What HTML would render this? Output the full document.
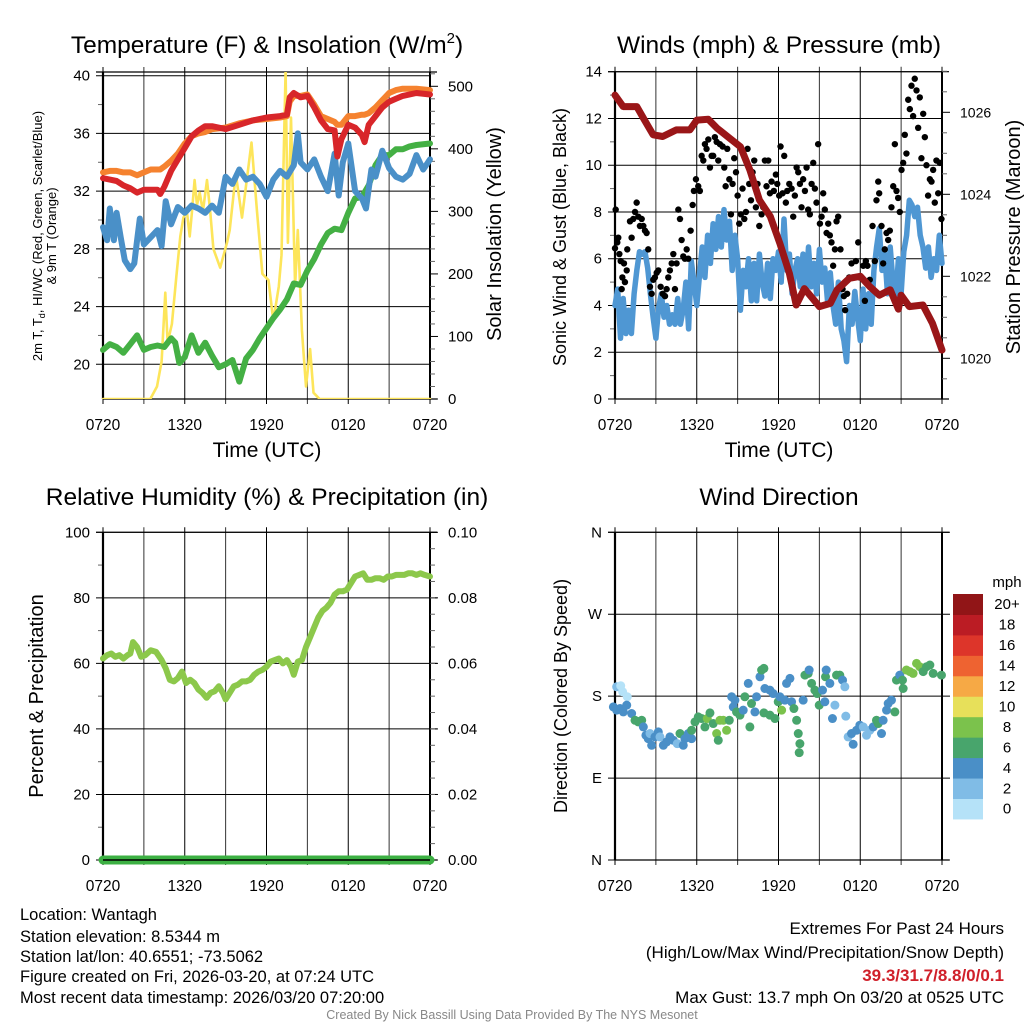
<!DOCTYPE html>
<html><head><meta charset="utf-8"><style>
html,body{margin:0;padding:0;background:#fff;}
svg{display:block;font-family:"Liberation Sans",Arial,sans-serif;}
</style></head><body>
<svg id="c" width="1024" height="1024" viewBox="0 0 1024 1024" xmlns="http://www.w3.org/2000/svg">
<rect width="1024" height="1024" fill="#fff"/>
<g id="g1"></g>
<g id="g2"></g>
<g id="g3"></g>
<g id="g4"></g>

<text x="267" y="53" font-size="24.5" text-anchor="middle">Temperature (F) &amp; Insolation (W/m<tspan font-size="15" dy="-10">2</tspan><tspan dy="10">)</tspan></text>
<text x="779" y="53" font-size="24.5" text-anchor="middle">Winds (mph) &amp; Pressure (mb)</text>
<text x="267" y="505" font-size="24.5" text-anchor="middle">Relative Humidity (%) &amp; Precipitation (in)</text>
<text x="779" y="505" font-size="24.5" text-anchor="middle">Wind Direction</text>

<text transform="translate(42,236) rotate(-90)" font-size="13" text-anchor="middle">2m T, T<tspan font-size="9" dy="3">d</tspan><tspan dy="-3">, HI/WC (Red, Green, Scarlet/Blue)</tspan></text>
<text transform="translate(56,236) rotate(-90)" font-size="13" text-anchor="middle">&amp; 9m T (Orange)</text>
<text transform="translate(501,234) rotate(-90)" font-size="20" text-anchor="middle">Solar Insolation (Yellow)</text>
<text transform="translate(566,237) rotate(-90)" font-size="18" text-anchor="middle">Sonic Wind &amp; Gust (Blue, Black)</text>
<text transform="translate(1020,237) rotate(-90)" font-size="20" text-anchor="middle">Station Pressure (Maroon)</text>
<text transform="translate(43,696) rotate(-90)" font-size="20" text-anchor="middle">Percent &amp; Precipitation</text>
<text transform="translate(567,696) rotate(-90)" font-size="18" text-anchor="middle">Direction (Colored By Speed)</text>
<text x="267" y="457" font-size="21" text-anchor="middle">Time (UTC)</text>
<text x="779" y="457" font-size="21" text-anchor="middle">Time (UTC)</text>

<g font-size="16.5">
<text x="20" y="920">Location: Wantagh</text>
<text x="20" y="942">Station elevation: 8.5344 m</text>
<text x="20" y="962">Station lat/lon: 40.6551; -73.5062</text>
<text x="20" y="982">Figure created on Fri, 2026-03-20, at 07:24 UTC</text>
<text x="20" y="1003">Most recent data timestamp: 2026/03/20 07:20:00</text>
</g>
<g font-size="17" text-anchor="end">
<text x="1004" y="934">Extremes For Past 24 Hours</text>
<text x="1004" y="958">(High/Low/Max Wind/Precipitation/Snow Depth)</text>
<text x="1004" y="981" fill="#d0202a" font-weight="bold">39.3/31.7/8.8/0/0.1</text>
<text x="1004" y="1003">Max Gust: 13.7 mph On 03/20 at 0525 UTC</text>
</g>
<text x="512" y="1019" font-size="12.5" fill="#888" text-anchor="middle">Created By Nick Bassill Using Data Provided By The NYS Mesonet</text>
</svg>
<script>
// ---------- DATA ----------
const tickLabelsX = ["0720","1320","1920","0120","0720"];
// Panel 1 temperature (hours since 0720 UTC)
const tempHours = [0,0.5,1,1.5,2,2.5,3,3.5,4,4.2,4.5,5,5.5,6,6.5,7,7.5,8,9,10,11,12,13,13.5,13.7,14,14.5,15,15.5,16,16.5,17,17.2,17.5,18,18.5,19,19.2,19.5,20,20.5,21,21.5,22,23,24];
const temp2m = [32.9,32.8,32.7,32.4,32.2,31.9,32.1,32.1,32.1,31.8,32.3,33.4,34.2,35.0,35.8,36.2,36.5,36.5,36.3,36.6,36.9,37.1,37.2,37.3,38.5,38.8,38.5,38.6,37.8,36.9,36.3,36.2,34.4,35.6,36.6,36.4,35.9,35.4,36.6,37.2,37.8,38.2,38.4,38.6,38.8,38.7];
const temp9m = [33.3,33.4,33.4,33.3,33.3,33.1,33.3,33.5,33.5,33.5,33.7,34.1,34.6,35.3,35.8,36.0,36.1,36.3,36.4,36.7,36.9,37.0,37.1,37.2,38.2,38.6,38.6,38.7,38.0,37.2,37.0,36.8,36.6,36.6,37.2,37.2,37.3,37.3,37.4,37.8,38.3,38.8,39.0,39.1,39.1,39.0];
const wcHours = [0,0.3,0.5,0.8,1,1.3,1.6,2,2.3,2.5,2.7,3,3.5,4,4.3,4.6,5,5.5,6,6.5,7,7.5,8,8.5,9,9.5,10,10.5,11,11.5,12,12.5,13,13.5,14,14.3,14.5,15,15.5,16,16.5,17,17.3,17.6,18,18.5,19,19.3,19.7,20,20.5,21,21.5,22,22.5,23,23.5,24];
const windChill = [29.5,28.6,30.8,28.6,30.5,28.8,27.2,26.6,27.0,28.6,30.1,28.3,28.8,29.3,28.2,31.3,29.7,30.9,30.5,31.0,30.8,30.5,31.0,30.5,33.0,32.5,33.5,32.8,33.0,32.5,31.6,32.8,33.4,33.0,33.8,36.0,34.0,33.5,34.2,33.0,32.0,34.6,31.7,34.0,35.3,32.0,31.5,30.8,33.5,33.0,34.8,33.6,33.0,32.8,33.2,34.5,33.5,34.2];
const dewHours = [0,0.5,1,1.5,2,2.5,3,3.5,4,4.5,5,5.3,5.6,6,6.5,7,7.5,8,8.5,9,9.5,10,10.5,11,11.5,12,12.5,13,13.5,14,14.5,15,15.5,16,16.5,17,17.5,18,18.5,19,19.5,20,20.5,21,21.5,22,22.5,23,24];
const dewPoint = [21.0,21.4,21.2,20.8,21.4,22.0,21.0,21.2,21.3,21.2,21.8,21.5,20.1,20.5,22.0,20.8,21.5,20.6,19.8,20.0,20.3,18.8,20.4,21.0,21.8,22.5,23.2,23.8,24.5,25.6,25.5,26.5,27.3,28.3,29.1,29.4,29.3,30.5,31.5,31.6,32.4,33.8,34.5,34.5,34.9,34.9,35.1,35.2,35.3];
const solarHours = [0,3.47,3.96,4.3,4.57,4.74,5.06,5.38,5.67,5.9,6.16,6.36,6.53,6.72,6.9,7.1,7.33,7.63,7.87,8.1,8.6,9.1,9.3,9.75,10.2,10.9,11.3,11.7,12.15,12.5,12.9,13.1,13.4,13.57,13.8,14.1,14.3,14.6,14.9,15.2,15.45,15.9,24];
const solarValues = [0,0,20,60,170,90,120,195,260,290,300,260,300,350,310,330,300,350,300,240,210,250,270,360,290,410,300,200,190,125,180,230,525,250,450,180,270,110,20,80,10,0,0];
// Panel 2
const windHours = [0,0.2,0.4,0.6,0.8,1,1.2,1.4,1.6,1.8,2,2.2,2.4,2.6,2.8,3,3.2,3.4,3.6,3.8,4,4.2,4.4,4.6,4.8,5,5.2,5.4,5.6,5.8,6,6.2,6.4,6.6,6.8,7,7.2,7.4,7.6,7.8,8,8.2,8.4,8.6,8.8,9,9.2,9.4,9.6,9.8,10,10.2,10.4,10.6,10.8,11,11.2,11.4,11.6,11.8,12,12.2,12.4,12.6,12.8,13,13.2,13.4,13.6,13.8,14,14.2,14.4,14.6,14.8,15,15.2,15.4,15.6,15.8,16,16.2,16.4,16.6,16.8,17,17.2,17.4,17.6,17.8,18,18.2,18.4,18.6,18.8,19,19.2,19.4,19.6,19.8,20,20.2,20.4,20.6,20.8,21,21.2,21.4,21.6,21.8,22,22.2,22.4,22.6,22.8,23,23.2,23.4,23.6,23.8,24];
const windSpeed = [4.0,4.7,2.6,4.3,2.8,3.8,2.8,4.5,5.5,6.3,6.2,6.3,5.6,4.5,3.5,2.6,3.9,4.5,3.5,4.0,3.2,3.6,3.2,4.3,3.2,3.8,5.0,3.0,5.9,5.0,4.0,5.3,6.5,5.2,7.0,5.8,7.5,6.4,7.8,6.5,8.1,6.8,7.6,5.5,7.0,6.0,3.8,5.5,4.8,6.0,4.2,5.8,4.2,6.2,5.0,4.4,5.8,4.3,6.0,5.5,6.3,5.0,7.7,5.5,6.2,4.5,5.5,6.0,4.8,6.2,4.6,6.5,4.8,5.8,4.5,6.4,5.0,5.6,4.2,5.4,4.0,3.2,5.0,3.0,2.5,1.6,4.0,3.2,4.6,3.5,2.5,4.7,3.0,4.5,3.2,5.5,6.5,7.3,5.5,6.2,4.5,6.5,5.0,4.2,6.0,4.5,6.3,7.0,8.5,8.3,7.8,8.2,7.0,6.5,5.6,6.5,5.2,6.0,5.5,7.0,5.8];
const gustHours = [0,0.05,0.17,0.24,0.32,0.42,0.49,0.54,0.66,0.73,0.86,0.9,1.1,1.22,1.34,1.47,1.59,1.71,1.83,1.96,2.08,2.2,2.32,2.44,2.57,2.69,2.81,2.93,3.06,3.18,3.35,3.5,3.67,3.79,3.91,4.03,4.16,4.28,4.4,4.52,4.65,4.77,4.89,5.01,5.13,5.26,5.38,5.55,5.7,5.79,5.94,6.11,6.23,6.36,6.48,6.6,6.72,6.85,6.97,7.09,7.21,7.33,7.46,7.58,7.7,7.9,8.02,8.12,8.24,8.39,8.51,8.63,8.75,8.88,9,9.12,9.24,9.36,9.49,9.61,9.73,9.85,9.98,10.1,10.22,10.34,10.46,10.59,10.76,10.88,11,11.12,11.25,11.37,11.49,11.66,11.81,11.91,12.05,12.15,12.3,12.42,12.54,12.64,12.79,12.96,13.08,13.2,13.33,13.45,13.57,13.69,13.81,13.94,14.06,14.18,14.3,14.43,14.55,14.67,14.79,14.91,15.04,15.16,15.28,15.4,15.53,15.65,15.77,15.89,16.01,16.14,16.26,16.38,16.55,16.7,16.8,16.89,17.04,17.19,17.36,17.48,17.68,17.85,17.97,18.22,18.34,18.41,18.53,18.7,18.9,19.07,19.19,19.32,19.39,19.56,19.68,19.8,19.93,20.05,20.17,20.29,20.42,20.54,20.66,20.78,20.9,21.03,21.15,21.27,21.39,21.52,21.64,21.76,21.88,22,22.13,22.25,22.37,22.49,22.62,22.74,22.86,22.98,23.11,23.23,23.35,23.47,23.59,23.72,23.84,23.96];
const gustSpeed = [6.45,8.1,6.7,6.9,6.2,5.9,4.7,5.2,5.8,5.0,5.5,6.4,7.6,6.9,7.7,8.0,8.4,7.8,7.4,7.7,7.4,7.2,7.1,6.4,4.8,4.5,5.1,5.2,5.4,5.5,4.8,4.5,4.4,4.7,5.2,5.5,5.8,6.2,4.7,5.8,8.1,7.7,6.8,6.1,6.0,6.4,6.0,7.2,8.3,8.9,9.4,9.1,8.9,10.4,10.2,10.9,10.7,11.1,9.9,10.4,10.4,11.2,11.0,10.2,10.9,10.8,9.9,9.1,10.7,9.4,7.9,9.2,10.3,9.7,8.7,7.5,7.9,9.0,7.7,8.0,10.7,9.2,8.5,9.7,10.2,8.2,9.2,7.4,7.9,8.2,10.2,9.1,10.2,8.8,9.3,8.9,9.6,9.2,8.7,10.8,8.8,10.4,8.4,8.9,9.2,9.0,7.8,8.7,9.9,9.7,9.2,8.2,9.4,8.9,9.9,8.1,7.9,9.2,10.1,9.0,8.4,10.9,7.5,7.8,8.8,8.1,7.1,7.5,7.0,6.7,5.7,6.4,7.6,7.8,6.4,4.7,4.4,3.8,4.5,5.2,5.8,5.2,5.9,6.7,5.2,5.7,4.2,5.9,5.7,5.1,7.4,5.9,8.5,9.3,8.8,7.4,5.8,6.4,7.1,6.8,7.2,8.2,9.1,10.9,8.9,8.6,8.0,9.8,10.1,11.3,10.5,12.8,12.4,13.4,12.1,13.7,13.2,11.6,12.9,10.3,12.2,11.2,10.0,8.7,9.4,9.3,9.8,8.4,10.2,8.8,10.1,7.7];
const presHours = [0,0.6,1.6,2.1,2.8,3.5,4.5,5.5,6,6.85,7.5,8.4,9.2,9.9,10.6,11.4,12.1,12.8,13.3,13.9,14.5,15,15.8,16.3,17.2,18,18.7,19.4,20.2,20.8,21,21.6,22.6,23.3,24];
const pressure = [1026.42,1026.14,1026.14,1025.85,1025.45,1025.41,1025.57,1025.57,1025.81,1025.83,1025.61,1025.37,1025.16,1024.59,1023.86,1023.46,1022.8,1022.07,1021.3,1021.7,1021.46,1021.26,1021.34,1021.67,1021.95,1022.0,1021.75,1021.54,1021.67,1021.2,1021.54,1021.26,1021.3,1020.85,1020.2];
// Panel 3
const rhHours = [0,0.3,0.6,0.9,1.2,1.5,1.8,2,2.2,2.5,2.8,3.1,3.5,3.9,4.3,4.6,4.9,5.2,5.5,5.8,6.1,6.4,6.7,7,7.3,7.6,7.9,8.2,8.5,8.8,9,9.3,9.6,9.9,10.2,10.5,10.8,11.1,11.4,11.7,12,12.3,12.6,12.9,13.2,13.5,13.8,14,14.3,14.6,14.9,15.2,15.5,15.8,16.1,16.4,16.7,17,17.3,17.6,17.9,18.2,18.5,18.8,19.1,19.4,19.7,20,20.3,20.6,20.9,21.2,21.5,21.8,22.1,22.4,22.7,23,23.3,23.6,24];
const rhValues = [61.5,62.5,63,62,62.5,61.5,62.5,63,66.5,65,62,62.5,64,63.5,61,58.5,55,54.5,55.5,57.5,54,55,54,52,51,49.5,51,51.5,53,51,49,51,53,53.5,54.5,54.5,55,56.5,57.5,58,59,60.5,61,61.5,60,61,59,56.5,60.5,61,65,68,71,74,76,77,78.5,81,82,82,82.5,84.5,86.5,87,87.5,85.5,85.5,86,86,85.5,86.5,86.5,87,87,87,87.5,87.5,87,87.5,87,86.5];
const precipHours = [0,24];
const precipValues = [0,0];
// Panel 4
const dirHours = [0.12,0.42,0.56,0.9,-0.12,0.12,0.37,0.61,0.86,1.22,1.47,1.71,1.96,2.08,2.27,2.44,2.57,2.69,2.93,3.18,3.3,3.55,3.79,4.03,4.28,4.57,4.77,5.01,5.13,5.38,5.62,5.62,5.87,6.11,6.36,6.6,6.77,6.97,7.21,7.46,7.58,7.7,7.95,8.19,8.39,8.56,8.68,8.8,8.92,9.17,9.41,9.53,9.78,9.9,10.02,10.27,10.39,10.64,10.76,10.93,11.0,11.37,11.61,10.93,11.37,11.74,11.98,12.1,12.23,12.47,12.59,12.84,12.96,13.13,13.33,13.45,13.57,13.52,13.81,13.94,14.18,14.25,14.43,14.67,14.84,14.99,15.23,15.4,15.45,15.5,15.77,15.96,16.14,16.26,16.5,16.7,16.87,16.94,17.11,17.36,17.48,17.73,17.97,18.22,18.46,18.7,18.95,19.19,19.32,19.56,19.68,19.93,20.05,20.29,20.54,20.66,20.9,21.1,21.15,21.39,21.64,21.88,22.13,22.37,22.62,22.86,23.11,23.35,23.96];
const dirDegrees = [190.3,191.4,184.8,179.3,168.2,164.6,166.4,162.7,170.1,160.9,153.5,151.7,153.5,146.2,137,133.3,138.9,126,135.2,140.7,135.2,126,129.7,135.2,131.5,127.8,138.9,126,133.3,138.9,133.3,142.5,151.7,157.2,155.4,146.2,155.4,161.6,149.9,138.9,131.5,153.5,153.5,142.5,153.5,179.3,168.2,175.6,162.7,159.1,164.6,179.3,194,146.2,171.9,162.7,179.3,201.3,208.7,210.5,188.4,186.6,182.9,161.6,159.1,155.4,173.8,179.3,164.6,175.6,194,199.5,173.8,166.4,153.5,138.9,127.8,117.9,175.6,203.1,205,208.7,194,186.6,182.9,170.1,186.6,173.8,201.3,208.7,194,155.4,170.1,203.1,203.1,197.6,190.3,158,135.2,138.9,127.1,142.5,148.1,146.2,137,142.5,146.2,153.5,149.9,138.9,153.5,164.6,171.9,175.6,162.7,197.6,203.1,197.6,188.4,208.7,207,205,216,212.3,207,212.3,214.2,205,203.1,205];
const dirSpeed = [2,1,1,1,4,4,4,4,4,4,6,6,6,4,4,4,2,4,4,4,2,4,4,4,4,2,6,4,4,4,4,6,6,6,6,6,8,6,6,8,6,8,8,8,6,4,4,4,6,6,4,6,4,6,6,4,4,4,6,6,4,4,4,6,6,6,6,4,8,4,4,4,4,6,6,6,6,6,4,6,6,4,6,6,6,6,4,4,6,4,4,4,2,6,6,4,2,2,2,4,4,4,4,2,2,2,4,6,6,4,4,4,4,4,6,6,4,6,6,8,8,8,8,8,6,6,6,6,6,6];
const cbLabels = ["0","2","4","6","8","10","12","14","16","18","20+"];
const cbColors = ["#b5e2f8","#80bce6","#4a8fc7","#48a56c","#7bc24c","#e7e05a","#f6a945","#ee6331","#dd352a","#bb1c24","#911517"];

// ---------- HELPERS ----------
const NS = "http://www.w3.org/2000/svg";
function mk(parent, tag, attrs, text){
  const e = document.createElementNS(NS, tag);
  for (const k in attrs) e.setAttribute(k, attrs[k]);
  if (text !== undefined) e.textContent = text;
  parent.appendChild(e);
  return e;
}
function lin(d0,d1,r0,r1){ return v => r0 + (v-d0)*(r1-r0)/(d1-d0); }
function pathD(xs, ys, fx, fy){
  let d = "";
  for (let i=0;i<xs.length;i++) d += (i?"L":"M") + fx(xs[i]).toFixed(1) + "," + fy(ys[i]).toFixed(1);
  return d;
}

function frame(g, L, R, T, B, yTicks, yFn, yLabels, opt){
  const gx = mk(g,"g",{});
  
  
  for (let h=0; h<=24; h+=3){
    const x = L + h*(R-L)/24;
    const l = mk(gx,"line",{x1:x,x2:x,y1:T-5,y2:B+5,stroke:(h%6===0)?"#000":"#333","stroke-width":1});
    
    
  }
  yTicks.forEach((v,i)=>{
    const y = yFn(v);
    const l = mk(gx,"line",{x1:L-7,x2:R+ (opt.rightGrid||0),y1:y,y2:y,stroke:"#000","stroke-width":1});
    
    
    const t = mk(g,"text",{x:L-13,y:y+5,"font-size":15,"text-anchor":"end"}, yLabels[i]);
    
    
  });
  if (opt.minor){
    opt.minor.forEach(v=>{ const y=yFn(v); mk(gx,"line",{x1:L-5,x2:L,y1:y,y2:y,stroke:"#666","stroke-width":1}); });
  }
  tickLabelsX.forEach((lab,i)=>{
    const x = L + i*(R-L)/4;
    const t = mk(g,"text",{x:x,y:B+31,"font-size":15.5,"text-anchor":"middle"}, lab);
    
    
  });
  const axL = mk(g,"line",{x1:L,x2:L,y1:T,y2:B,stroke:"#000","stroke-width":2.2});
  
  
  const axR = mk(g,"line",{x1:R,x2:R,y1:T,y2:B,stroke:"#000","stroke-width":2});
  
  
  const axT = mk(g,"line",{x1:L-7,x2:R+7,y1:T,y2:T,stroke:"#000","stroke-width":1.2});
  
  
  const axB = mk(g,"line",{x1:L,x2:R+7,y1:B,y2:B,stroke:"#000","stroke-width":1.2});
  
  
}
function rightAxis(g, R, vals, fn, labels, minor, fs){
  vals.forEach((v,i)=>{
    const y = fn(v);
    mk(g,"line",{x1:R,x2:R+8,y1:y,y2:y,stroke:"#000","stroke-width":1});
    const t = mk(g,"text",{x:R+18,y:y+5,"font-size":fs||15}, labels[i]);
    
    
  });
  minor.forEach(v=>{ const y=fn(v); mk(g,"line",{x1:R,x2:R+5,y1:y,y2:y,stroke:"#666","stroke-width":1}); });
}
function line(g, name, xs, ys, fx, fy, color, w){
  const p = mk(g,"path",{d:pathD(xs,ys,fx,fy),fill:"none",stroke:color,"stroke-width":w,"stroke-linejoin":"round","stroke-linecap":"round"});
  
  
  return p;
}

// ---------- PANEL 1 ----------
(function(){
  const g = document.getElementById("g1");
  const L=103,R=430,T=72,B=399;
  const x = lin(0,24,L,R), y = lin(20,40,364.3,75.7), ys = lin(0,500,399,86.3);
  frame(g,L,R,T,B,[20,24,28,32,36,40],y,["20","24","28","32","36","40"],{minor:[22,26,30,34,38]});
  const minorR=[]; for(let v=20; v<=520; v+=20) if(v%100) minorR.push(v);
  rightAxis(g,R,[0,100,200,300,400,500],ys,["0","100","200","300","400","500"],minorR);
  const cp = mk(g,"clipPath",{id:"cp1"}); mk(cp,"rect",{x:L-4,y:T,width:R-L+8,height:B-T});
  const d = mk(g,"g",{"clip-path":"url(#cp1)"});
  line(d,"insolation-line",solarHours,solarValues,x,ys,"#fde55a",2.6);
  line(d,"dewpoint-line",dewHours,dewPoint,x,y,"#44b044",6);
  line(d,"windchill-line",wcHours,windChill,x,y,"#4a90c8",6);
  line(d,"temp-9m-line",tempHours,temp9m,x,y,"#f5822f",6);
  line(d,"temp-2m-line",tempHours,temp2m,x,y,"#d8262a",6);
})();

// ---------- PANEL 2 ----------
(function(){
  const g = document.getElementById("g2");
  const L=615,R=942,T=71.7,B=399;
  const x = lin(0,24,L,R), y = lin(0,14,399,71.7), yp = lin(1020,1026,358.3,112.3);
  frame(g,L,R,T,B,[0,2,4,6,8,10,12,14],y,["0","2","4","6","8","10","12","14"],{minor:[1,3,5,7,9,11,13]});
  rightAxis(g,R,[1020,1022,1024,1026],yp,["1020","1022","1024","1026"],[1019.5,1020.5,1021,1021.5,1022.5,1023,1023.5,1024.5,1025,1025.5,1026.5,1027],14);
  const cp = mk(g,"clipPath",{id:"cp2"}); mk(cp,"rect",{x:L-4,y:T-4,width:R-L+8,height:B-T+4});
  const d = mk(g,"g",{"clip-path":"url(#cp2)"});
  line(d,"wind-speed-line",windHours,windSpeed,x,y,"#4f97d3",5.5);
  const gg = mk(d,"g",{});
  
  
  gustHours.forEach((h,i)=>{
    const c = mk(gg,"circle",{cx:x(h),cy:y(gustSpeed[i]),r:3.2,fill:"#000"});
    
    
  });
  line(d,"pressure-line",presHours,pressure,x,yp,"#9a1618",7);
})();

// ---------- PANEL 3 ----------
(function(){
  const g = document.getElementById("g3");
  const L=103,R=430,T=532.3,B=860;
  const x = lin(0,24,L,R), y = lin(0,100,860,532.3), yr = lin(0,0.1,860,532.3);
  frame(g,L,R,T,B,[0,20,40,60,80,100],y,["0","20","40","60","80","100"],{rightGrid:7,minor:[10,30,50,70,90]});
  const mr=[]; for(let v=0.005; v<0.1; v+=0.005) mr.push(v);
  rightAxis(g,R,[0,0.02,0.04,0.06,0.08,0.1],yr,["0.00","0.02","0.04","0.06","0.08","0.10"],mr);
  line(g,"humidity-line",rhHours,rhValues,x,y,"#8cc84b",6);
  const p = line(g,"precip-line",precipHours,precipValues,x,yr,"#3cb043",9);
  p.setAttribute("stroke-linecap","round");
  mk(g,"line",{x1:L,x2:R,y1:B,y2:B,stroke:"#000","stroke-width":1.5});
})();

// ---------- PANEL 4 ----------
(function(){
  const g = document.getElementById("g4");
  const L=615,R=942,T=532.3,B=860;
  const x = lin(0,24,L,R), y = lin(0,360,860,532.3);
  frame(g,L,R,T,B,[0,90,180,270,360],y,["N","E","S","W","N"],{rightGrid:8});
  const dg = mk(g,"g",{});
  
  
  dirHours.forEach((h,i)=>{
    const idx = Math.min(10, Math.floor(dirSpeed[i]/2));
    const c = mk(dg,"circle",{cx:x(h),cy:y(dirDegrees[i]),r:4.5,fill:cbColors[idx]});
    
    
  });
  const cb = mk(g,"g",{});
  
  
  const top=594, bh=20.45;
  mk(cb,"text",{x:1007,y:587,"font-size":15,"text-anchor":"middle"},"mph");
  cbLabels.forEach((lab,i)=>{
    const yy = top + (10-i)*bh;
    const r = mk(cb,"rect",{x:953,y:yy,width:30,height:bh+0.5,fill:cbColors[i]});
    
    
    const t = mk(cb,"text",{x:1007,y:yy+bh/2+5,"font-size":15,"text-anchor":"middle"},lab);
    
    
  });
})();
</script>
</body></html>
